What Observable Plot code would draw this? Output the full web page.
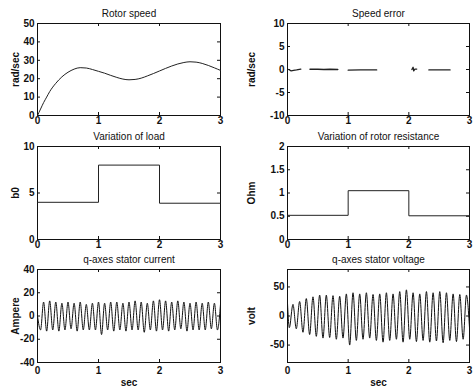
<!DOCTYPE html>
<html><head><meta charset="utf-8">
<script src="https://cdn.jsdelivr.net/npm/d3@7"></script>
<script src="https://cdn.jsdelivr.net/npm/@observablehq/plot@0.6"></script>
<style>
html,body{margin:0;padding:0;background:#fff;}
#fig{position:relative;width:473px;height:388px;overflow:hidden;background:#fff;}
#fig > div{position:absolute;}
</style></head><body><div id="fig"></div>
<script>
// ---- data ----
const xTicks = [0, 1, 2, 3];

const titles = ["Rotor speed", "Speed error", "Variation of load", "Variation of rotor resistance", "q-axes stator current", "q-axes stator voltage"];
const yLabels = ["rad/sec", "rad/sec", "b0", "Ohm", "Ampere", "volt"];
const xLabel = "sec";

const speedT = [0, 0.05, 0.1, 0.15, 0.2, 0.3, 0.4, 0.5, 0.6, 0.7, 0.8, 0.9, 1.0, 1.1, 1.2, 1.3, 1.4, 1.5, 1.6, 1.7, 1.8, 1.9, 2.0, 2.1, 2.2, 2.3, 2.4, 2.5, 2.6, 2.7, 2.8, 2.9, 3.0];
const speedW = [0, 3.5, 7, 10, 13, 17.5, 21, 23.5, 25.2, 26, 25.8, 25, 24, 23, 21.8, 20.7, 19.8, 19.4, 19.6, 20.3, 21.5, 22.8, 24.2, 25.6, 26.9, 28, 28.8, 29.2, 29, 28.3, 27.2, 25.9, 24.5];
const speedTicks = [0, 10, 20, 30, 40, 50];

const errT = [0.02, 0.06, 0.1, 0.15, 0.22, 0.3, 0.37, 0.5, 0.6, 0.7, 0.83, 0.9, 1.0, 1.2, 1.47, 1.8, 2.05, 2.07, 2.08, 2.1, 2.13, 2.2, 2.33, 2.5, 2.68];
const errE = [0, -0.3, -0.2, -0.1, 0.1, NaN, 0.05, 0.05, 0, 0.05, 0, NaN, -0.15, -0.1, -0.1, NaN, 0, 0.5, -0.3, 0.1, 0.1, NaN, -0.1, -0.1, -0.1];
const errTicks = [-10, -5, 0, 5, 10];

const loadT = [0, 1, 2, 3];
const loadB = [4, 8, 3.9, 3.9];
const loadTicks = [0, 5, 10];

const resT = [0, 1, 2, 3];
const resR = [0.52, 1.05, 0.51, 0.51];
const resTicks = [0, 0.5, 1, 1.5, 2];

const curT = [0, 0.05, 0.10, 0.15, 0.20, 0.25, 0.30, 0.35, 0.40, 0.45, 0.50, 0.55, 0.60, 0.65, 0.70, 0.75, 0.80, 0.85, 0.90, 0.95, 1.00, 1.05, 1.10, 1.15, 1.20, 1.25, 1.30, 1.35, 1.40, 1.45, 1.50, 1.55, 1.60, 1.65, 1.70, 1.75, 1.80, 1.85, 1.90, 1.95, 2.00, 2.05, 2.10, 2.15, 2.20, 2.25, 2.30, 2.35, 2.40, 2.45, 2.50, 2.55, 2.60, 2.65, 2.70, 2.75, 2.80, 2.85, 2.90, 2.95, 3.00];
const curI = [0, -12, 12, -13, 13, -12, 12, -13, 11, -12, 12, -11, 11, -13, 12, -12, 10, -12, 11, -12, 12, -16, 11, -12, 12, -13, 12, -12, 11, -13, 12, -12, 13, -12, 12, -14, 11, -12, 13, -13, 14, -12, 13, -13, 12, -12, 13, -11, 12, -13, 11, -12, 12, -12, 11, -12, 12, -11, 11, -12, 10];
const curTicks = [-40, -20, 0, 20, 40];

const voltT = [0, 0.03, 0.09, 0.145, 0.2, 0.255, 0.31, 0.365, 0.42, 0.475, 0.53, 0.585, 0.64, 0.695, 0.75, 0.805, 0.86, 0.915, 0.97, 1.025, 1.08, 1.135, 1.19, 1.245, 1.30, 1.355, 1.41, 1.465, 1.52, 1.575, 1.63, 1.685, 1.74, 1.795, 1.85, 1.905, 1.96, 2.015, 2.07, 2.125, 2.18, 2.235, 2.29, 2.345, 2.40, 2.455, 2.51, 2.565, 2.62, 2.675, 2.73, 2.785, 2.84, 2.895, 2.95, 3.0];
const voltV = [22, -20, 20, -22, 25, -28, 30, -32, 33, -35, 36, -38, 36, -37, 35, -40, 34, -38, 38, -50, 40, -42, 38, -40, 40, -38, 37, -42, 38, -45, 40, -42, 38, -40, 42, -45, 45, -40, 40, -44, 38, -42, 42, -45, 40, -43, 42, -46, 40, -42, 38, -44, 37, -40, 36, -20];
const voltTicks = [-50, 0, 50];

// ---- layout ----
const fig = document.getElementById("fig");
const cols = [{left: 0, width: 236, mL: 37, mR: 16}, {left: 236, width: 237, mL: 51, mR: 4}];
const rows = [{top: 0, height: 130, mT: 23, mB: 15, pad: 1}, {top: 128, height: 126, mT: 18, mB: 15, pad: 1}, {top: 254, height: 134, mT: 15, mB: 26, pad: 4}];

function panel(r, c, idx, yDomain, yTicks, line, showX) {
  const col = cols[c], row = rows[r];
  const bw = col.width - col.mL - col.mR;
  const bh = row.height - row.mT - row.mB;
  const marks = [
    Plot.frame({stroke: "#111", strokeWidth: 1}),
    Plot.ruleX(xTicks, {stroke: "#111", insetTop: bh - 3}),
    Plot.ruleX(xTicks, {stroke: "#111", insetBottom: bh - 3}),
    Plot.ruleY(yTicks, {stroke: "#111", insetRight: bw - 3}),
    Plot.ruleY(yTicks, {stroke: "#111", insetLeft: bw - 3}),
    Plot.axisX({ticks: xTicks, tickSize: 0, tickPadding: row.pad, tickFormat: d => String(d), label: null, fontWeight: "bold"}),
    Plot.axisY({ticks: yTicks, tickSize: 0, tickPadding: 3, tickFormat: d => String(d), label: null, fontWeight: "bold"}),
    line,
    Plot.text([titles[idx]], {text: d => d, frameAnchor: "top", dy: -10, lineAnchor: "middle", fontWeight: "normal", fill: "#111"}),
    Plot.text([yLabels[idx]], {text: d => d, frameAnchor: "left", dx: -(col.mL - 15), rotate: -90, textAnchor: "middle", lineAnchor: "middle", fontWeight: "bold", fill: "#111"})
  ];
  if (showX) marks.push(Plot.text([xLabel], {text: d => d, frameAnchor: "bottom", dy: 20, lineAnchor: "middle", fontWeight: "bold", fill: "#111"}));
  const svg = Plot.plot({
    width: col.width, height: row.height,
    marginLeft: col.mL, marginRight: col.mR, marginTop: row.mT, marginBottom: row.mB,
    x: {domain: [0, 3]},
    y: {domain: yDomain},
    style: {fontFamily: "'Liberation Sans', Arial, sans-serif", fontSize: "10px", color: "#111", background: "transparent", overflow: "visible"},
    marks
  });
  const div = document.createElement("div");
  div.style.left = col.left + "px";
  div.style.top = row.top + "px";
  div.appendChild(svg);
  fig.appendChild(div);
}

const zipData = (ts, vs) => ts.map((t, i) => ({t, v: vs[i]}));

panel(0, 0, 0, [0, 50], speedTicks, Plot.line(zipData(speedT, speedW), {x: "t", y: "v", stroke: "#222", strokeWidth: 1, curve: "monotone-x"}), false);
panel(0, 1, 1, [-10, 10], errTicks, Plot.line(zipData(errT, errE), {x: "t", y: "v", stroke: "#222", strokeWidth: 1.3}), false);
panel(1, 0, 2, [0, 10], loadTicks, Plot.line(zipData(loadT, loadB), {x: "t", y: "v", stroke: "#222", strokeWidth: 1, curve: "step-after"}), false);
panel(1, 1, 3, [0, 2], resTicks, Plot.line(zipData(resT, resR), {x: "t", y: "v", stroke: "#222", strokeWidth: 1, curve: "step-after"}), false);
panel(2, 0, 4, [-40, 40], curTicks, Plot.line(zipData(curT, curI), {x: "t", y: "v", stroke: "#111", strokeWidth: 1, curve: "monotone-x"}), true);
panel(2, 1, 5, [-80, 80], voltTicks, Plot.line(zipData(voltT, voltV), {x: "t", y: "v", stroke: "#111", strokeWidth: 1, curve: "monotone-x"}), true);
</script></body></html>
